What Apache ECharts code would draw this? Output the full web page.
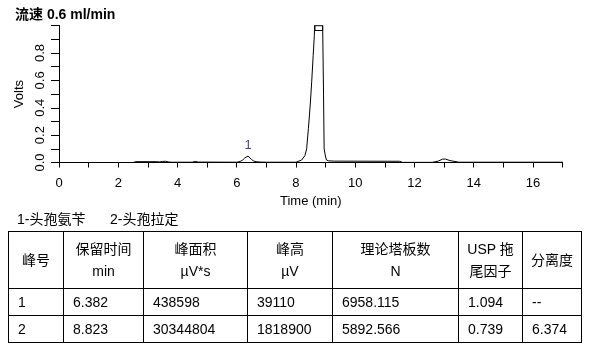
<!DOCTYPE html>
<html><head><meta charset="utf-8">
<script src="https://cdn.jsdelivr.net/npm/echarts@6/dist/echarts.min.js"></script>
<style>
body{margin:0;background:#fff;}
#c{position:absolute;left:0;top:0;width:594px;height:360px;}
.note{position:absolute;top:208px;font-family:"Liberation Sans",Arial,"Noto Sans CJK SC",sans-serif;font-size:14px;color:#000;white-space:nowrap;}
#tbl{position:absolute;left:8px;top:231px;border-collapse:collapse;font-family:"Liberation Sans",Arial,"Noto Sans CJK SC",sans-serif;font-size:14px;color:#000;table-layout:fixed;}
#tbl td{border:1px solid #000;padding:0 0 0 9px;text-align:left;vertical-align:middle;}
#tbl tr.h td{text-align:center;padding:0;line-height:22px;height:56px;}
#tbl tr.r td{height:26px;}
</style></head>
<body>
<div id="c"></div>
<div class="note" style="left:17px">1-头孢氨苄</div>
<div class="note" style="left:110px">2-头孢拉定</div>
<table id="tbl"></table>
<script>
// ---- data ----
const titleText = '流速 0.6 ml/min';
const timeMin = [0, 2.5, 2.6, 3.3, 3.4, 3.5, 3.6, 3.7, 3.8, 4.5, 4.6, 4.7, 6.0, 6.12, 6.2, 6.27, 6.33, 6.38, 6.43, 6.5, 6.58, 6.68, 6.8, 7.0, 8.0, 8.19, 8.3, 8.36, 8.42, 8.48, 8.53, 8.58, 8.62, 8.66, 8.75, 8.82, 8.87, 8.9, 8.93, 8.95, 9.0, 9.03, 9.1, 9.3, 11.5, 11.6, 12.6, 12.8, 12.95, 13.05, 13.2, 13.5, 17];
const volts = [0, 0, 0.006, 0.006, 0.004, 0.008, 0.009, 0.004, 0.002, 0.002, 0.008, 0.003, 0.002, 0.008, 0.018, 0.033, 0.044, 0.047, 0.04, 0.022, 0.01, 0.005, 0.003, 0.002, 0.002, 0.018, 0.05, 0.1, 0.25, 0.42, 0.59, 0.78, 0.93, 1.2, 1.7, 1.82, 1.5, 1.0, 0.5, 0.1, 0.04, 0.018, 0.012, 0.01, 0.009, 0.001, 0.001, 0.01, 0.025, 0.025, 0.014, 0.002, 0.002];
const peakNames = ['1', '2'];
const peakTimes = [6.38, 8.82];
const peakVolts = [0.047, 1.82];
const baseline1 = [[6.12, 0], [6.72, 0]];
const baseline2 = [[8.3, 0], [10.55, 0]];
const xMax = 17, yMax = 1.0;
const xTickLabels = [0, 2, 4, 6, 8, 10, 12, 14, 16];
const yTickLabels = ['0.0', '0.2', '0.4', '0.6', '0.8'];
const headers = ['峰号', '保留时间<br>min', '峰面积<br>µV*s', '峰高<br>µV', '理论塔板数<br>N', 'USP 拖<br>尾因子', '分离度'];
const colWidths = [55, 80, 104, 85, 126, 64, 59];
const rows = [
  ['1', '6.382', '438598', '39110', '6958.115', '1.094', '--'],
  ['2', '8.823', '30344804', '1818900', '5892.566', '0.739', '6.374']
];

// ---- table ----
const tbl = document.getElementById('tbl');
let html = '<colgroup>' + colWidths.map(w => '<col style="width:' + w + 'px">').join('') + '</colgroup>';
html += '<tr class="h">' + headers.map(h => '<td>' + h + '</td>').join('') + '</tr>';
rows.forEach(r => { html += '<tr class="r">' + r.map(v => '<td>' + v + '</td>').join('') + '</tr>'; });
tbl.innerHTML = html;

// ---- chart ----
const FONT = '"Liberation Sans", Arial, "Noto Sans CJK SC", sans-serif';
const gLeft = 59, gTop = 25.7, gWidth = 503.6;
const zeroY = 162.5, axisY = 165.7;
const yMinData = -(axisY - zeroY) / (zeroY - gTop) * yMax;
const trace = timeMin.map((t, i) => [t, volts[i]]);

const chart = echarts.init(document.getElementById('c'), null, {renderer: 'canvas'});
chart.setOption({
  animation: false,
  title: {text: titleText, left: 10, top: 3, textStyle: {fontFamily: FONT, fontSize: 14, fontWeight: 'bold', color: '#000'}},
  grid: [
    {left: gLeft, top: gTop, width: gWidth, height: axisY - gTop},
    {left: gLeft, top: gTop, width: gWidth, height: zeroY - gTop}
  ],
  xAxis: [
    {gridIndex: 0, type: 'value', min: 0, max: xMax, interval: 1,
     axisLine: {show: true, lineStyle: {color: '#000', width: 1}},
     axisTick: {show: true, length: 5, lineStyle: {color: '#000'}},
     splitLine: {show: false},
     axisLabel: {color: '#000', fontFamily: FONT, fontSize: 13, margin: 11,
       formatter: v => xTickLabels.indexOf(v) >= 0 ? String(v) : ''},
     name: 'Time (min)', nameLocation: 'middle', nameGap: 29,
     nameTextStyle: {color: '#000', fontFamily: FONT, fontSize: 13}},
    {gridIndex: 1, type: 'value', min: 0, max: xMax, show: false}
  ],
  yAxis: [
    {gridIndex: 0, type: 'value', min: yMinData, max: yMax,
     axisLine: {show: true, lineStyle: {color: '#000', width: 1}},
     axisTick: {show: false}, axisLabel: {show: false}, splitLine: {show: false}},
    {gridIndex: 1, type: 'value', min: 0, max: yMax, interval: 0.1,
     axisLine: {show: true, lineStyle: {color: '#000', width: 1}},
     axisTick: {show: true, length: 8, lineStyle: {color: '#000'}},
     splitLine: {show: false},
     axisLabel: {color: '#000', fontFamily: FONT, fontSize: 13, rotate: 90, margin: 12,
       formatter: v => { const s = v.toFixed(1); return yTickLabels.indexOf(s) >= 0 ? s : ''; }},
     name: 'Volts', nameLocation: 'middle', nameGap: 26, nameRotate: 90,
     nameTextStyle: {color: '#000', fontFamily: FONT, fontSize: 13}}
  ],
  series: [
    {type: 'line', xAxisIndex: 0, yAxisIndex: 0, data: trace, showSymbol: false, clip: true,
     lineStyle: {color: '#000', width: 1}, silent: true,
     markArea: {silent: true, itemStyle: {color: 'rgba(0,0,0,0)', borderColor: '#000', borderWidth: 1},
       data: [[{coord: [peakTimes[1] - 0.18, yMax - 0.035]}, {coord: [peakTimes[1] + 0.08, yMax]}]]}},
    {type: 'line', xAxisIndex: 0, yAxisIndex: 0, data: baseline2, showSymbol: false,
     lineStyle: {color: '#000', width: 1, type: [3, 3]}},
    {type: 'line', xAxisIndex: 0, yAxisIndex: 0, data: baseline1, showSymbol: false,
     lineStyle: {color: '#000', width: 1, type: [2, 2]}},
    {type: 'scatter', xAxisIndex: 0, yAxisIndex: 0, symbolSize: 1, itemStyle: {color: 'rgba(0,0,0,0)'},
     data: [[peakTimes[0], peakVolts[0]]],
     label: {show: true, position: 'top', distance: 4, formatter: peakNames[0],
       color: '#1a1a50', fontFamily: FONT, fontSize: 13}}
  ]
});
</script>
</body></html>
